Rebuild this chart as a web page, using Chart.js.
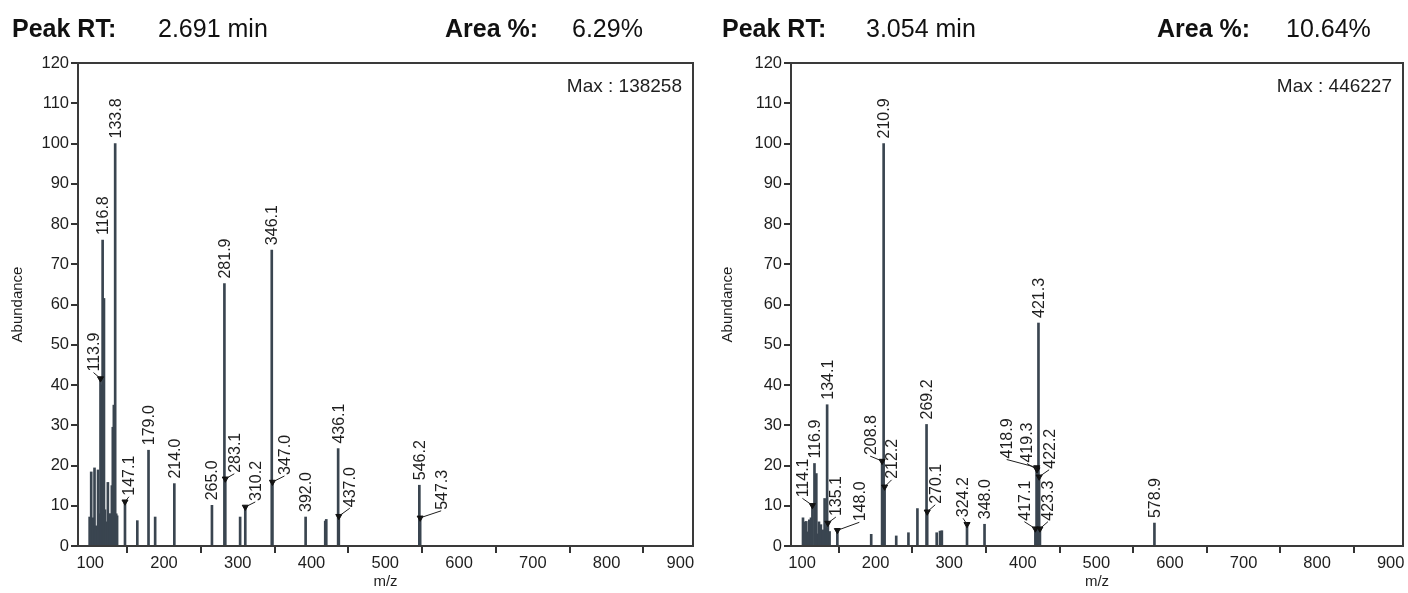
<!DOCTYPE html>
<html><head><meta charset="utf-8">
<script src="https://cdn.jsdelivr.net/npm/chart.js@4.4.1/dist/chart.umd.min.js"></script>
<style>
html,body{margin:0;padding:0;background:#fff;width:1408px;height:593px;overflow:hidden;font-family:"Liberation Sans",Arial,sans-serif;}
.panel{position:absolute;top:0;width:704px;height:593px;}
.panel canvas{position:absolute;left:0;top:0;}
.hd{position:absolute;top:14px;height:28px;line-height:28px;font-size:25px;color:#111;white-space:nowrap;}
.b{font-weight:bold;}
</style></head><body>
<div class="panel" id="p1" style="left:0"><canvas id="c1" width="704" height="593"></canvas></div>
<div class="panel" id="p2" style="left:704px"><canvas id="c2" width="704" height="593"></canvas></div>
<script>
// ---------- data ----------
const xTicks = [100, 200, 300, 400, 500, 600, 700, 800, 900];
const yTicks = [0, 10, 20, 30, 40, 50, 60, 70, 80, 90, 100, 110, 120];
const headerNames = ["Peak RT:", "Area %:"];
const peakRT = ["2.691 min", "3.054 min"];
const areaPct = ["6.29%", "10.64%"];
const maxAbund = ["138258", "446227"];

// spectrum 1 (RT 2.691)
const mz1 = [99.2, 101.3, 103.6, 105.8, 108.1, 110.6, 112.5, 113.9, 115.2, 116.8, 118.6, 120.0, 121.5, 123.9, 126.0, 127.5, 129.3, 130.6, 132.0, 133.8, 135.2, 136.4, 147.1, 163.8, 179.0, 188.0, 214.0, 265.0, 281.9, 283.1, 303.2, 310.2, 346.1, 347.0, 392.0, 418.6, 420.0, 436.1, 437.0, 546.2, 547.3];
const ab1 = [7.2, 18.4, 7.0, 19.4, 5.0, 18.9, 8.0, 41.6, 40.0, 76.0, 61.5, 9.0, 6.0, 15.8, 8.0, 8.0, 15.0, 29.5, 35.0, 100, 8.0, 7.5, 11.0, 6.3, 23.8, 7.2, 15.5, 10.1, 65.2, 16.7, 7.2, 9.7, 73.5, 15.9, 7.2, 6.2, 6.6, 24.2, 7.4, 15.1, 7.0];
const lab1Mz = [113.9, 116.8, 133.8, 147.1, 179.0, 214.0, 265.0, 281.9, 283.1, 310.2, 346.1, 347.0, 392.0, 436.1, 437.0, 546.2, 547.3];
const lab1Ab = [41.6, 76.0, 100, 11.0, 23.8, 15.5, 10.1, 65.2, 16.7, 9.7, 73.5, 15.9, 7.2, 24.2, 7.4, 15.1, 7.0];
const lab1Marker = [1, 0, 0, 1, 0, 0, 0, 0, 1, 1, 0, 1, 0, 0, 1, 0, 1];

// spectrum 2 (RT 3.054)
const mz2 = [101.3, 103.4, 105.8, 107.6, 109.9, 112.2, 114.1, 116.9, 119.4, 121.2, 123.0, 125.6, 128.0, 130.7, 132.5, 134.1, 135.1, 137.4, 148.0, 194.0, 208.8, 210.9, 212.2, 228.0, 244.6, 256.8, 269.2, 270.1, 283.0, 287.5, 290.0, 324.2, 348.0, 417.1, 418.9, 419.3, 420.3, 421.3, 422.2, 423.3, 578.9];
const ab2 = [7.0, 6.0, 6.1, 3.5, 6.5, 7.0, 10.1, 20.5, 18.0, 3.0, 6.0, 5.3, 4.0, 11.8, 4.5, 35.1, 5.7, 3.6, 3.9, 2.9, 21.1, 100, 14.7, 2.5, 3.3, 9.3, 30.2, 8.5, 3.3, 3.7, 3.8, 5.4, 5.4, 4.3, 19.5, 19.0, 18.0, 55.4, 17.2, 4.3, 5.7];
const lab2Mz = [114.1, 116.9, 134.1, 135.1, 148.0, 208.8, 210.9, 212.2, 269.2, 270.1, 324.2, 348.0, 417.1, 418.9, 419.3, 421.3, 422.2, 423.3, 578.9];
const lab2Ab = [10.1, 20.5, 35.1, 5.7, 3.9, 21.1, 100, 14.7, 30.2, 8.5, 5.4, 5.4, 4.3, 19.5, 19.0, 55.4, 17.2, 4.3, 5.7];
const lab2Marker = [1, 0, 0, 1, 1, 1, 0, 1, 0, 1, 1, 0, 1, 1, 1, 0, 1, 1, 0];

// ---------- layout (pixel nudges for leader-lined labels) ----------
const leaders1 = {"113.9":[-7,-6], "147.1":[4,-5], "283.1":[9,-5], "310.2":[10,-5], "347.0":[12,-6], "437.0":[11,-8], "547.3":[21,-7]};
const leaders2 = {"114.1":[-10,-7], "135.1":[8,-6], "148.0":[22,-8], "208.8":[-12,-5], "212.2":[7,-7], "270.1":[8,-7], "324.2":[-4,-6], "417.1":[-11,-7], "418.9":[-30,-8], "419.3":[-10,-6], "422.2":[10,-7], "423.3":[8,-7]};

const FONT = '"Liberation Sans", Arial, sans-serif';
const INK = '#1e1e1e';

function header(panelId, i, pos) {
  const p = document.getElementById(panelId);
  const items = [[headerNames[0], true], [peakRT[i], false], [headerNames[1], true], [areaPct[i], false]];
  items.forEach((it, k) => {
    const d = document.createElement('div');
    d.className = 'hd' + (it[1] ? ' b' : '');
    d.style.left = pos[k] + 'px';
    d.textContent = it[0];
    p.appendChild(d);
  });
}

const spectrumPlugin = {
  id: 'spectrum',
  afterDraw(chart, args, opts) {
    const {ctx, chartArea: a, scales: {x, y}} = chart;
    ctx.save();
    // frame
    ctx.strokeStyle = '#3a3a3a';
    ctx.lineWidth = 2;
    ctx.strokeRect(a.left, a.top, a.right - a.left, a.bottom - a.top);
    // max text
    ctx.fillStyle = INK;
    ctx.font = '19px ' + FONT;
    ctx.textAlign = 'right';
    ctx.textBaseline = 'middle';
    ctx.fillText('Max : ' + opts.maxText, a.right - 11, a.top + 24);
    // peak labels
    ctx.font = '16px ' + FONT;
    ctx.strokeStyle = INK;
    ctx.lineWidth = 1;
    opts.labMz.forEach((m, i) => {
      const txt = m.toFixed(1);
      const px = x.getPixelForValue(m);
      const py = y.getPixelForValue(opts.labAb[i]);
      let ax = px, ay = py - 5;
      const ld = opts.leaders[txt];
      if (ld) {
        ctx.beginPath();
        ctx.moveTo(px, py);
        ctx.lineTo(px + ld[0], py + ld[1]);
        ctx.stroke();
        ax = px + ld[0];
        ay = py + ld[1] - 1;
      }
      ctx.save();
      ctx.translate(ax, ay);
      ctx.rotate(-Math.PI / 2);
      ctx.textAlign = 'left';
      ctx.textBaseline = 'middle';
      ctx.fillText(txt, 0, 1);
      ctx.restore();
    });
    ctx.restore();
  }
};

function makeChart(id, mz, ab, labMz, labAb, labMarker, leaders, maxText, g) {
  const bars = mz.map((m, i) => ({x: m, y: ab[i]}));
  const marks = [];
  labMz.forEach((m, i) => { if (labMarker[i]) marks.push({x: m, y: labAb[i]}); });
  const tickFont = {size: 16.5, family: FONT};
  return new Chart(document.getElementById(id), {
    type: 'bar',
    data: {datasets: [
      {type: 'bar', data: bars, backgroundColor: '#3a4550', barThickness: 2, grouped: false, order: 2},
      {type: 'scatter', data: marks, pointStyle: 'triangle', rotation: 180, radius: 3.5,
       backgroundColor: '#111', borderColor: '#111', borderWidth: 1, order: 1}
    ]},
    options: {
      responsive: false, animation: false, devicePixelRatio: 1,
      events: [],
      layout: {padding: {left: 0, top: 63, right: g.padRight, bottom: 0}},
      plugins: {legend: {display: false}, tooltip: {enabled: false},
        spectrum: {labMz, labAb, leaders, maxText}},
      scales: {
        x: {type: 'linear', min: g.xMin, max: g.xMax, offset: false,
          afterFit(s) { s.height = 47; },
          afterBuildTicks(s) { s.ticks = xTicks.map(v => ({value: v})); },
          ticks: {font: tickFont, color: INK, padding: 1, maxRotation: 0, autoSkip: false},
          grid: {drawOnChartArea: false, tickLength: 7, color: '#333', lineWidth: 2},
          border: {color: '#3a3a3a', width: 2},
          title: {display: true, text: 'm/z', font: {size: 15, family: FONT}, color: INK, padding: {top: 0, bottom: 2}}
        },
        y: {min: 0, max: 120,
          afterFit(s) { s.width = g.yAxisX; },
          afterBuildTicks(s) { s.ticks = yTicks.map(v => ({value: v})); },
          ticks: {font: tickFont, color: INK, padding: 2},
          grid: {drawOnChartArea: false, tickLength: 7, color: '#333', lineWidth: 2},
          border: {color: '#3a3a3a', width: 2},
          title: {display: true, text: 'Abundance', font: {size: 15, family: FONT}, color: INK, padding: {top: g.titlePad, bottom: 0}}
        }
      }
    },
    plugins: [spectrumPlugin]
  });
}

header('p1', 0, [12, 158, 445, 572]);
header('p2', 1, [18, 162, 453, 582]);
makeChart('c1', mz1, ab1, lab1Mz, lab1Ab, lab1Marker, leaders1, maxAbund[0],
  {xMin: 83.4, xMax: 917.2, padRight: 11, yAxisX: 78, titlePad: 9});
makeChart('c2', mz2, ab2, lab2Mz, lab2Ab, lab2Marker, leaders2, maxAbund[1],
  {xMin: 85, xMax: 916.7, padRight: 4, yAxisX: 87, titlePad: 15});
</script>
</body></html>
